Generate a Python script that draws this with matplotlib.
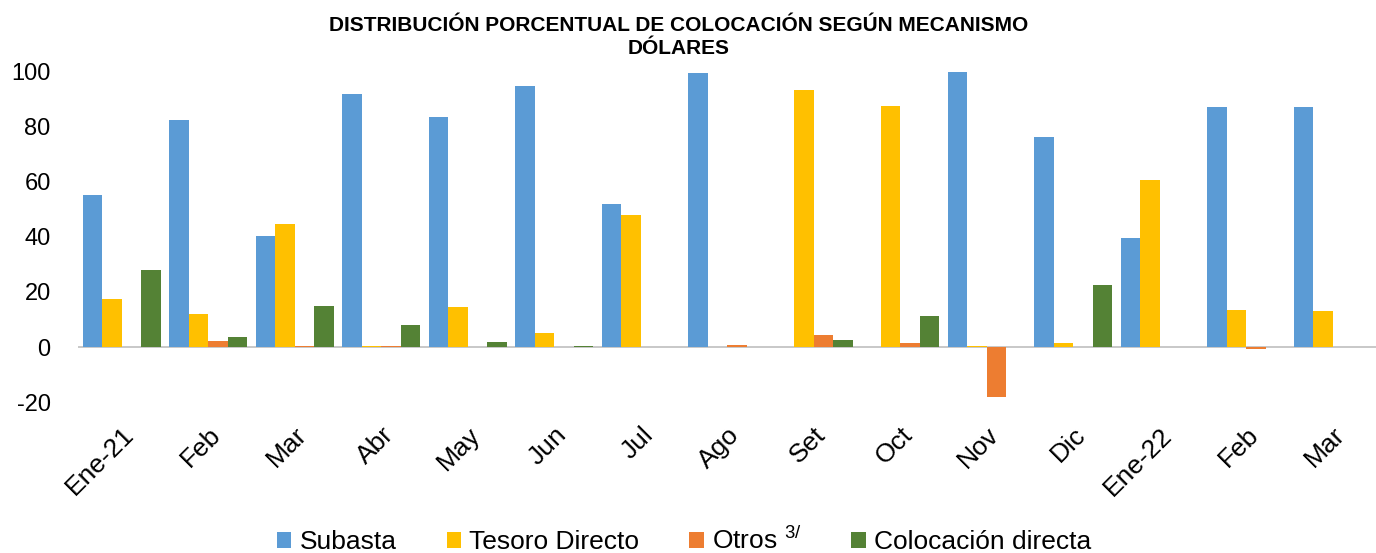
import numpy as np
import matplotlib
matplotlib.use("Agg")
import matplotlib.pyplot as plt

plt.rcParams["font.family"] = ["Liberation Sans", "DejaVu Sans"]
plt.rcParams["axes.unicode_minus"] = False

months = ["Ene-21", "Feb", "Mar", "Abr", "May", "Jun", "Jul", "Ago", "Set",
          "Oct", "Nov", "Dic", "Ene-22", "Feb", "Mar"]
subasta = [55.3, 82.5, 40.4, 92.0, 83.6, 95.0, 52.0, 99.6, 0.0, 0.0, 100.0, 76.4, 39.6, 87.3, 87.3]
tesoro = [17.5, 12.0, 44.6, 0.5, 14.5, 5.0, 48.0, 0.0, 93.5, 87.6, 0.5, 1.3, 60.7, 13.5, 13.0]
otros = [0.0, 2.2, 0.5, 0.3, 0.0, 0.0, 0.0, 0.7, 4.2, 1.4, -18.0, 0.0, 0.0, -0.8, 0.0]
colocacion = [28.0, 3.6, 15.0, 8.0, 2.0, 0.5, 0.0, 0.0, 2.5, 11.3, 0.0, 22.7, 0.0, 0.0, 0.0]

series = [("Subasta", subasta, "#5b9bd5"),
          ("Tesoro Directo", tesoro, "#ffc000"),
          (r"Otros $^{\mathregular{3/}}$", otros, "#ed7d31"),
          ("Colocación directa", colocacion, "#548235")]

fig = plt.figure(figsize=(13.76, 5.53), dpi=100)
ax = fig.add_axes([0.057, 0.273, 0.943, 0.597])

x = np.arange(len(months))
w = 0.225
for i, (name, vals, col) in enumerate(series):
    ax.bar(x + (i - 1.5) * w, vals, w, color=col, label=name)

ax.set_xlim(-0.5, len(months) - 0.5)
ax.set_ylim(-20, 100)
ax.set_yticks([-20, 0, 20, 40, 60, 80, 100])
ax.tick_params(axis="y", labelsize=17, length=0, pad=20)
ax.set_xticks(x)
ax.set_xticklabels(months, rotation=45, ha="right", rotation_mode="anchor", fontsize=19)
ax.tick_params(axis="x", length=0, pad=15)
for s in ax.spines.values():
    s.set_visible(False)
ax.axhline(0, color="#bfbfbf", lw=1.2, zorder=0)

fig.text(0.493, 0.933, "DISTRIBUCIÓN PORCENTUAL DE COLOCACIÓN SEGÚN MECANISMO\nDÓLARES",
         ha="center", va="center", fontsize=15, fontweight="bold", linespacing=1.3)

fig.legend(loc="lower center", bbox_to_anchor=(0.497, -0.045), ncol=4, frameon=False,
           fontsize=19, handlelength=0.55, handleheight=0.55, handletextpad=0.3,
           columnspacing=1.9)

fig.savefig("out.png", dpi=100)
